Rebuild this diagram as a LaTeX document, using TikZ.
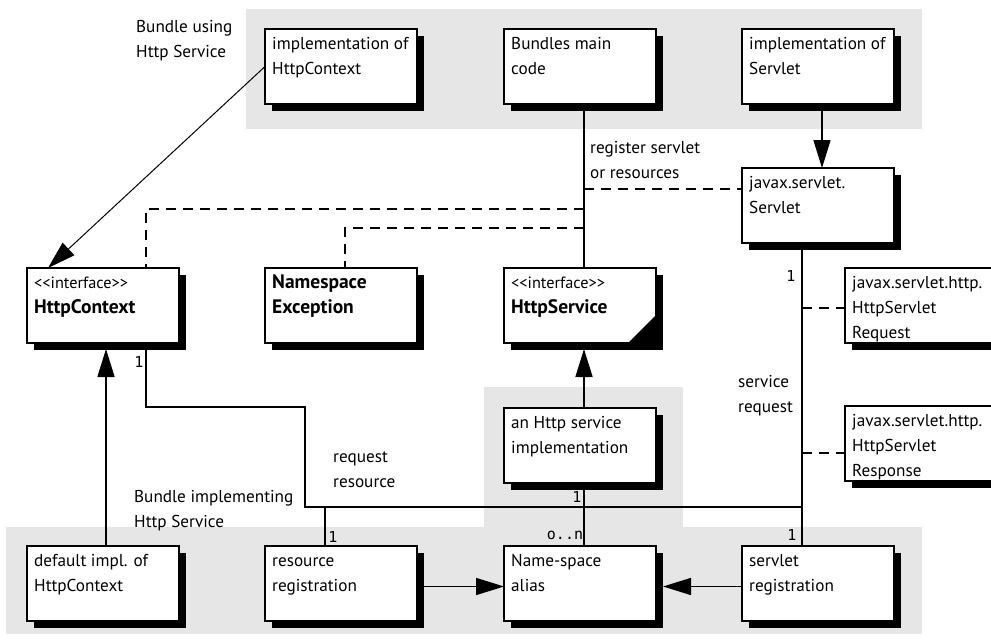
\documentclass[tikz,border=0pt]{standalone}
\usepackage{fontspec}
\setmainfont{PT Sans}
\newfontfamily\multfont{DejaVu Sans Mono}
\usetikzlibrary{arrows.meta}
\definecolor{bggrey}{RGB}{230,230,230}
\tikzset{
  umlbox/.style={draw=black, fill=white, line width=2pt, minimum width=152pt,
    minimum height=75pt, inner sep=0pt, outer sep=0pt, anchor=north west},
  umltext/.style={anchor=north west, inner sep=0pt, align=left,
    font=\fontsize{17.2}{25}\selectfont},
  shadowbox/.style={fill=black},
  conn/.style={line width=1.6pt},
  thinconn/.style={line width=1pt},
  dsh/.style={line width=1.8pt, dash pattern=on 10pt off 7pt},
  tri/.style={-{Triangle[length=28pt,width=17pt]}},
  lbl/.style={anchor=north west, inner sep=0pt, align=left,
    font=\fontsize{17.2}{25}\selectfont},
  mult/.style={inner sep=0pt, font=\multfont\fontsize{15}{15}\selectfont},
}
\newcommand\mkbox[4]{%
  \fill[shadowbox] (#2+7,#3+7) rectangle ++(152,75);
  \node[umlbox] (#1) at (#2,#3) {};
  \node[umltext] (#1-t) at (#2+7,#3+3) {\strut #4};
}
\newcommand\stereo{{\fontsize{16.3}{16.3}\selectfont\textless\kern0pt\textless\kern0pt interface\kern0pt\textgreater\kern0pt\textgreater}}
\newcommand\bigb[1]{{\fontsize{19.5}{25}\selectfont\bfseries #1}}
\begin{document}
\begin{tikzpicture}[x=1pt,y=-1pt]
\useasboundingbox (0,0) rectangle (991,640);
\clip (0,0) rectangle (991,640);
% grey regions
\fill[bggrey] (246,9) rectangle (922,129);
\fill[bggrey] (484,387) rectangle (683,527);
\fill[bggrey] (6,527) rectangle (922,634);
% boxes
\mkbox{implhc}{265}{29}{implementation of\\HttpContext}
\mkbox{bmain}{504}{29}{Bundles main\\code}
\mkbox{impls}{742}{29}{implementation of\\Servlet}
\mkbox{jserv}{742}{168}{javax.servlet.\\Servlet}
\mkbox{hctx}{27}{268}{\stereo\\\bigb{HttpContext}}
\mkbox{nsex}{265}{268}{\bigb{Namespace}\\\bigb{Exception}}
\mkbox{hsvc}{504}{268}{\stereo\\\bigb{HttpService}}
\fill (628,343) -- (656,315) -- (656,343) -- cycle;
\mkbox{req}{845}{268}{javax.servlet.http.\\HttpServlet\\Request}
\mkbox{resp}{845}{406}{javax.servlet.http.\\HttpServlet\\Response}
\mkbox{ahs}{504}{408}{an Http service\\implementation}
\mkbox{dimpl}{27}{546}{default impl. of\\HttpContext}
\mkbox{resreg}{265}{546}{resource\\registration}
\mkbox{nsa}{504}{546}{Name-space\\alias}
\mkbox{sreg}{742}{546}{servlet\\registration}
% junction coordinates
\coordinate (j1) at (584,189);
\coordinate (j2) at (584,209);
\coordinate (j3) at (584,228);
\coordinate (q1) at (802,308);
\coordinate (q2) at (802,453);
\coordinate (k1) at (305,407);
\coordinate (k2) at (802,507);
% connectors
\draw[thinconn, tri] (implhc.west) -- ([xshift=21pt]hctx.north west);
\draw[conn] ([xshift=4pt]bmain.south) -- ([xshift=4pt]hsvc.north);
\draw[conn, tri] ([xshift=4pt]impls.south) -- ([xshift=4pt]jserv.north);
\draw[dsh] (j1) -- (j1 -| jserv.west);
\draw[dsh] (j2) -| ([xshift=43pt]hctx.north);
\draw[dsh] (j3) -| ([xshift=4pt]nsex.north);
\draw[conn] ([xshift=-16pt]jserv.south) -- ([xshift=-16pt]sreg.north);
\draw[dsh] (q1) -- (q1 -| req.west);
\draw[dsh] (q2) -- (q2 -| resp.west);
\draw[conn] ([xshift=43pt]hctx.south) |- (k1) |- (k2);
\draw[conn] ([xshift=-16pt]resreg.north) -- ++(0,-39);
\draw[conn] ([xshift=4pt]ahs.south) -- ([xshift=4pt]nsa.north);
\draw[conn, tri] ([xshift=3pt]dimpl.north) -- ([xshift=3pt,yshift=-6pt]hctx.south);
\draw[conn, tri] ([xshift=4pt]ahs.north) -- ([xshift=4pt,yshift=-6pt]hsvc.south);
\draw[conn, tri] ([yshift=-3pt]resreg.east) -- ([yshift=-3pt]nsa.west);
\draw[conn, tri] ([yshift=-3pt]sreg.west) -- ([xshift=7pt,yshift=-3pt]nsa.east);
% labels
\node[lbl] (lbu) at (136,14.5) {\strut Bundle using\\Http Service};
\node[lbl] (lreg) at (590,135.5) {\strut register servlet\\or resources};
\node[lbl] (lsr) at (738,369.5) {\strut service\\request};
\node[lbl] (lrr) at (333,444.5) {\strut request\\resource};
\node[lbl] (lbi) at (134,484.5) {\strut Bundle implementing\\Http Service};
% multiplicities
\node[mult] (m1) at (139,362) {1};
\node[mult] (m2) at (791,276) {1};
\node[mult] (m3) at (577,497) {1};
\node[mult] (m4) at (565,535) {o..n};
\node[mult] (m5) at (792,535) {1};
\node[mult] (m6) at (333,537) {1};
\end{tikzpicture}
\end{document}
